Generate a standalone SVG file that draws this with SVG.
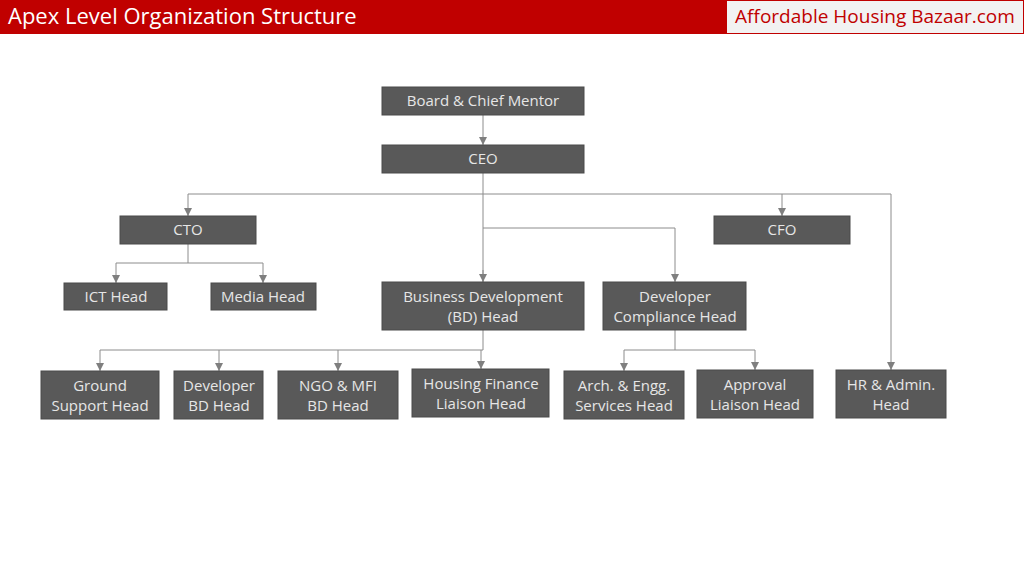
<svg xmlns="http://www.w3.org/2000/svg" width="1024" height="576" viewBox="0 0 1024 576">
<defs>
<marker id="a" viewBox="0 0 10 10" refX="10" refY="5" markerWidth="8" markerHeight="8" markerUnits="userSpaceOnUse" orient="auto"><path d="M0,0L10,5L0,10z" fill="#7f7f7f"/></marker>
<style>
.n rect{fill:#595959;stroke:#4a4a4a;stroke-width:1}
.n text{fill:#e6e6e6;font-family:"Open Sans","Noto Sans",sans-serif;font-size:15px;text-anchor:middle}
.c path{fill:none;stroke:#8c8c8c;stroke-width:1}
.c path.m{marker-end:url(#a)}
</style>
</defs>
<rect width="1024" height="576" fill="#fff"/>
<rect x="0" y="0" width="1024" height="34" fill="#c00000"/>
<text x="8" y="24" font-family="'Open Sans','Noto Sans',sans-serif" font-size="22" fill="#fff">Apex Level Organization Structure</text>
<rect x="726.5" y="0.5" width="297" height="33" fill="#f2f2f2" stroke="#c00000"/>
<text x="875" y="23" text-anchor="middle" font-family="'Open Sans','Noto Sans',sans-serif" font-size="19" fill="#c00000">Affordable Housing Bazaar.com</text>
<g class="c">
<path class="m" d="M483,115V145"/>
<path d="M483,173V282"/>
<path class="m" d="M483,270V282"/>
<path d="M188,194H891"/>
<path class="m" d="M188,194V216"/>
<path class="m" d="M782,194V216"/>
<path class="m" d="M891,194V370"/>
<path class="m" d="M483,228H675V282"/>
<path d="M188,244V263H116"/>
<path class="m" d="M116,263V283"/>
<path class="m" d="M188,263H263V283"/>
<path d="M483,330V350H100"/>
<path class="m" d="M100,350V371"/>
<path class="m" d="M219,350V371"/>
<path class="m" d="M338,350V371"/>
<path class="m" d="M481,350V369"/>
<path d="M675,330V350H624"/>
<path class="m" d="M624,350V371"/>
<path class="m" d="M675,350H755V370"/>
</g>
<g id="board" class="n"><rect x="382" y="87" width="202" height="28"/><text x="483" y="106">Board &amp; Chief Mentor</text></g>
<g id="ceo" class="n"><rect x="382" y="145" width="202" height="28"/><text x="483" y="164">CEO</text></g>
<g id="cto" class="n"><rect x="120" y="216" width="136" height="28"/><text x="188" y="235">CTO</text></g>
<g id="cfo" class="n"><rect x="714" y="216" width="136" height="28"/><text x="782" y="235">CFO</text></g>
<g id="ict" class="n"><rect x="64" y="283" width="103" height="27"/><text x="116" y="302">ICT Head</text></g>
<g id="media" class="n"><rect x="211" y="283" width="105" height="27"/><text x="263" y="302">Media Head</text></g>
<g id="bd" class="n"><rect x="382" y="282" width="202" height="48"/><text x="483" y="302">Business Development</text><text x="483" y="322">(BD) Head</text></g>
<g id="dch" class="n"><rect x="603" y="282" width="143" height="48"/><text x="675" y="302">Developer</text><text x="675" y="322">Compliance Head</text></g>
<g id="gs" class="n"><rect x="41" y="371" width="118" height="48"/><text x="100" y="391">Ground</text><text x="100" y="411">Support Head</text></g>
<g id="dbd" class="n"><rect x="174" y="371" width="89" height="48"/><text x="219" y="391">Developer</text><text x="219" y="411">BD Head</text></g>
<g id="ngo" class="n"><rect x="278" y="371" width="120" height="48"/><text x="338" y="391">NGO &amp; MFI</text><text x="338" y="411">BD Head</text></g>
<g id="hf" class="n"><rect x="412" y="369" width="137" height="48"/><text x="481" y="389">Housing Finance</text><text x="481" y="409">Liaison Head</text></g>
<g id="arch" class="n"><rect x="564" y="371" width="120" height="48"/><text x="624" y="391">Arch. &amp; Engg.</text><text x="624" y="411">Services Head</text></g>
<g id="appr" class="n"><rect x="697" y="370" width="116" height="48"/><text x="755" y="390">Approval</text><text x="755" y="410">Liaison Head</text></g>
<g id="hr" class="n"><rect x="836" y="370" width="110" height="48"/><text x="891" y="390">HR &amp; Admin.</text><text x="891" y="410">Head</text></g>
</svg>
